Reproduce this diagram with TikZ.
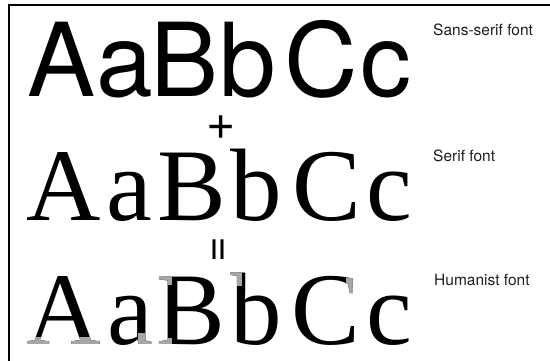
\documentclass[tikz,border=0pt]{standalone}
\usepackage{fontspec}
\setmainfont{Liberation Serif}
\newfontfamily\sansf{TeX Gyre Heros}
\newfontfamily\seriff{Liberation Serif}
\newcommand\humrow[2]{%
  \node[serifbig,text=#1] (#2A) at (63.5,344) {A};
  \node[serifbig,text=#1] (#2a) at (130,344) {a};
  \node[serifbig,text=#1] (#2B) at (191,344) {B};
  \node[serifbig,text=#1] (#2b) at (256.5,344) {b};
  \node[serifbig,text=#1] (#2C) at (326,344) {C};
  \node[serifbig,text=#1] (#2c) at (389,344) {c};
}
\begin{document}
\begin{tikzpicture}[x=1pt,y=-1pt,
  sansbig/.style={font=\sansf\fontsize{102}{102}\selectfont, anchor=base, inner sep=0pt},
  serifbig/.style={font=\seriff\fontsize{103}{103}\selectfont, anchor=base, inner sep=0pt},
  lbl/.style={font=\sansf\fontsize{15.5}{18}\selectfont, anchor=base west, inner sep=0pt, text=black!88},
  sym/.style={font=\sansf\fontsize{#1}{#1}\selectfont, inner sep=0pt}]
\useasboundingbox (0,0) rectangle (550,361);
\fill[white] (0,0) rectangle (550,361);
\draw[line width=1.4pt] (550,5) -- (9,5) -- (9,361);
% sans-serif row
\node[sansbig] (sA) at (62,97) {A};
\node[sansbig] (sa) at (125,97) {a};
\node[sansbig] (sB) at (184.5,97) {B};
\node[sansbig] (sb) at (248,97) {b};
\node[sansbig] (sC) at (321,97) {C};
\node[sansbig] (sc) at (385.5,97) {c};
\node[lbl] (l1) at (433,36) {Sans-serif font};
% plus
\node[sym=50] (plus) at (221,128) {+};
% serif row
\node[serifbig] (rA) at (63.5,221) {A};
\node[serifbig] (ra) at (129,221) {a};
\node[serifbig] (rB) at (192,221) {B};
\node[serifbig] (rb) at (256.5,221) {b};
\node[serifbig] (rC) at (327,221) {C};
\node[serifbig] (rc) at (389,221) {c};
\node[lbl] (l2) at (433,162) {Serif font};
% equals
\node[sym=44,rotate=90] (eq) at (221,250) {=};
% humanist row
\humrow{black}{h}
\begin{scope}
  \clip (26,337) rectangle (50,348)
        (68,337) rectangle (102,348)
        (138,333) rectangle (153,348)
        (158,274) rectangle (171,284)
        (158,338) rectangle (171,348)
        (230,270) rectangle (241,285)
        (346,272) rectangle (360,300);
  \humrow{black!35}{g}
\end{scope}
\node[lbl] (l3) at (434,285) {Humanist font};
\end{tikzpicture}
\end{document}
